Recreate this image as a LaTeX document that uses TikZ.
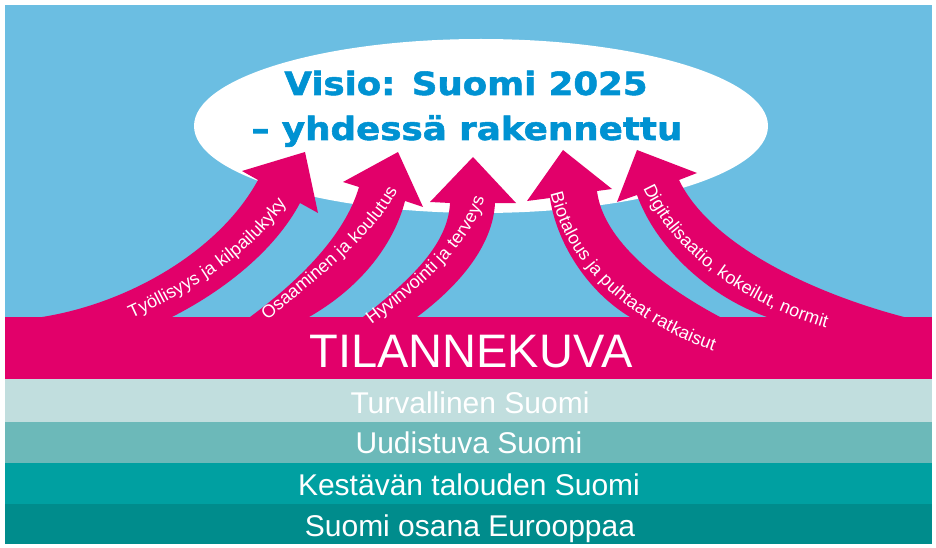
\documentclass[tikz,border=0pt]{standalone}
\usepackage{fontspec}
\setmainfont{Liberation Sans}
\newfontfamily\titlefont{DejaVu Sans}[BoldFeatures={FakeBold=1.6}]
\usetikzlibrary{decorations.text}
\definecolor{skyc}{HTML}{6BBEE2}
\definecolor{pinkc}{HTML}{E2006A}
\definecolor{titlec}{HTML}{0092D2}
\definecolor{bandA}{HTML}{C1DEDE}
\definecolor{bandB}{HTML}{6CB9B9}
\definecolor{bandC}{HTML}{00A0A1}
\definecolor{bandD}{HTML}{008C8C}
\newcommand\arrowfont{\color{white}\fontsize{18}{20}\selectfont}
\begin{document}
\begin{tikzpicture}[x=1pt,y=-1pt,
  arrowshape/.style={fill=pinkc, draw=none},
  lbl/.style={decorate, decoration={text along path, text align=center, raise=-5pt}},
  bandtext/.style={text=white, anchor=base, inner sep=0pt, font=\fontsize{30}{34}\selectfont},
  titletext/.style={text=titlec, anchor=base, inner sep=0pt, font=\titlefont\bfseries\fontsize{32}{36}\selectfont}]
\useasboundingbox (0,0) rectangle (936,548);
\fill[white] (0,0) rectangle (936,548);
% sky
\fill[skyc] (5,5) rectangle (932,318);
% vision ellipse
\fill[white] (481,126) ellipse [x radius=287pt, y radius=87pt];
% arrows
\fill[arrowshape] (42,322) -- (42,317) .. controls (130,303) and (220,250) .. (258,180)
  -- (242,171) -- (305,152) -- (318,213) -- (300,203)
  .. controls (275,250) and (225,290) .. (172,317) -- (172,322) -- cycle;
\fill[arrowshape] (250,322) -- (250,317) .. controls (300,280) and (345,235) .. (359,187)
  -- (343,182) -- (398,152) -- (423,207) -- (405,201)
  .. controls (395,240) and (365,285) .. (309,317) -- (309,322) -- cycle;
\fill[arrowshape] (363,322) -- (363,317) .. controls (410,280) and (448,245) .. (450,203)
  -- (430,202) -- (473,157) -- (516,203) -- (495,203)
  .. controls (493,245) and (460,285) .. (417,317) -- (417,322) -- cycle;
\fill[arrowshape] (630,322) -- (630,317) .. controls (585,290) and (556,240) .. (550,198)
  -- (527,201) -- (563,150) -- (612,189) -- (597,191)
  .. controls (603,240) and (660,285) .. (720,317) -- (720,322) -- cycle;
\fill[arrowshape] (767,322) -- (767,317) .. controls (705,295) and (655,245) .. (637,195)
  -- (617,202) -- (637,150) -- (697,173) -- (679,180)
  .. controls (712,248) and (820,295) .. (904,317) -- (904,322) -- cycle;
% bands
\fill[pinkc] (5,317) rectangle (932,379.5);
\fill[bandA] (5,379) rectangle (932,422);
\fill[bandB] (5,422) rectangle (932,463);
\fill[bandC] (5,463) rectangle (932,504);
\fill[bandD] (5,504) rectangle (932,544);
% title
\node[titletext] (t1) at (466,95) {\scalebox{1.11}[1]{Visio: Suomi 2025}};
\node[titletext] (t2) at (467,140) {\scalebox{1.115}[1]{– yhdessä rakennettu}};
% band texts
\node[text=white, anchor=base, inner sep=0pt, font=\fontsize{47}{50}\selectfont] (tk) at (471,367) {TILANNEKUVA};
\node[bandtext] (b1) at (470,413) {Turvallinen Suomi};
\node[bandtext] (b2) at (469,453.5) {Uudistuva Suomi};
\node[bandtext] (b3) at (469,495) {Kestävän talouden Suomi};
\node[bandtext] (b4) at (470,536.5) {Suomi osana Eurooppaa};
% arrow labels
\path[lbl, decoration={text={|\arrowfont|Työllisyys ja kilpailukyky}}]
  (118,319) .. controls (180,292) and (255,250) .. (289,189);
\path[lbl, decoration={text={|\arrowfont|Osaaminen ja koulutus}}]
  (256,323) .. controls (298,287) and (381,228) .. (397,178);
\path[lbl, decoration={text={|\arrowfont|Hyvinvointi ja terveys}}]
  (360,327) .. controls (402,296) and (478,238) .. (481,186);
\path[lbl, decoration={text={|\arrowfont|Biotalous ja puhtaat ratkaisut}}]
  (553,180) .. controls (565,258) and (630,320) .. (727,350);
\path[lbl, decoration={text={|\arrowfont|Digitalisaatio, kokeilut, normit}}]
  (642,172) .. controls (670,250) and (752,305) .. (842,327);
\end{tikzpicture}
\end{document}
